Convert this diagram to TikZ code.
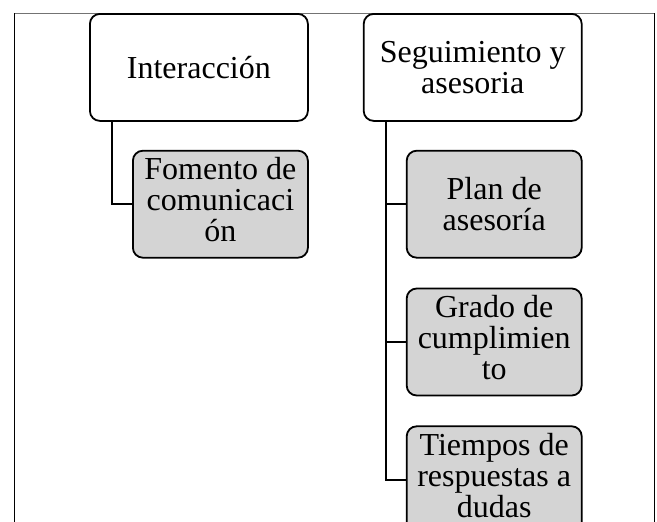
\documentclass[tikz,border=0pt]{standalone}
\usepackage{fontspec}
\setmainfont{Liberation Serif}
\usetikzlibrary{positioning}

\begin{document}
\begin{tikzpicture}[
		x=1pt,
		y=1pt,
		node distance=28pt,
		font=\fontsize{32pt}{31pt}\selectfont,
		var/.style={draw=black, line width=1.8pt, rounded corners=10pt, fill=white,
			minimum width=218pt, minimum height=107pt, align=center, inner sep=0pt},
		ind/.style={var, fill=black!17, minimum width=175pt},
		tres/.style={execute at end node={\rule[-9pt]{0pt}{9pt}}},
		rama/.style={draw=black, line width=2pt}
	]

	\clip (0,0) rectangle (657,-522);

	\draw[line width=1pt, black!55] (14,-13) -- (654,-13);
	\draw[line width=1pt] (14,-13) -- (14,-530);
	\draw[line width=1pt] (654,-13) -- (654,-530);

	\node[var, anchor=north west] (I) at (89,-13) 	{Interacción};
	\node[var, right=54pt of I] (S) 			{Seguimiento y\\asesoria};

	\node[ind, tres, below left=28pt and 0pt of I.south east] (F) 	{Fomento de\\comunicaci\\ón};
	\node[ind, below left=28pt and 0pt of S.south east] (P) 		{Plan de\\asesoría};
	\node[ind, tres, below=29pt of P] (G) 						{Grado de\\cumplimien\\to};
	\node[ind, tres, below=29pt of G] (T) 						{Tiempos de\\respuestas a\\dudas};

	\draw[rama] ([xshift=23pt]I.south west) |- (F.west);
	\draw[rama] ([xshift=23pt]S.south west) |- (P.west);
	\draw[rama] ([xshift=23pt]S.south west) |- (G.west);
	\draw[rama] ([xshift=23pt]S.south west) |- (T.west);

\end{tikzpicture}
\end{document}
